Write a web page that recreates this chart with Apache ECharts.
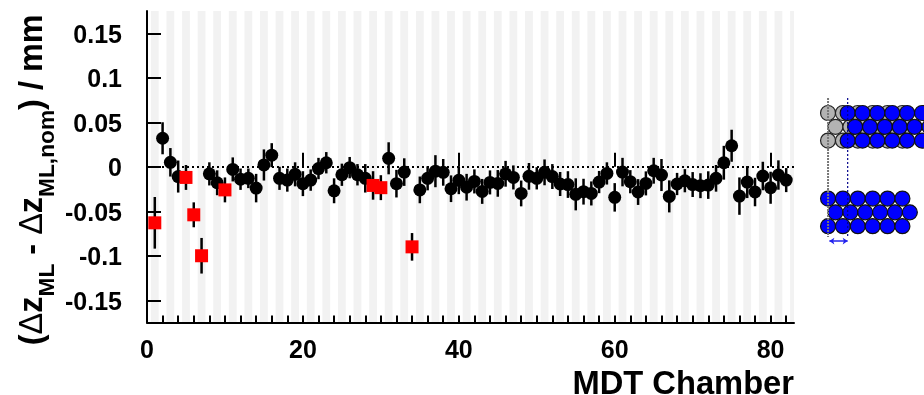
<!DOCTYPE html>
<html>
<head>
<meta charset="utf-8">
<style>html,body{margin:0;background:#fff}#chart{width:924px;height:395px}</style>
<script src="https://cdn.jsdelivr.net/npm/echarts@6/dist/echarts.min.js"></script>
</head>
<body>
<div id="chart"></div>
<script>
  // chambers measured normally
  const blackChambers = [2, 3, 4, 8, 9, 11, 12, 13, 14, 15, 16, 17, 18, 19, 20, 21, 22, 23, 24, 25, 26, 27, 28, 31, 32, 33, 35, 36, 37, 38, 39, 40, 41, 42, 43, 44, 45, 46, 47, 48, 49, 50, 51, 52, 53, 54, 55, 56, 57, 58, 59, 60, 61, 62, 63, 64, 65, 66, 67, 68, 69, 70, 71, 72, 73, 74, 75, 76, 77, 78, 79, 80, 81, 82];
  const blackValues = [0.032, 0.005, -0.011, -0.008, -0.018, -0.003, -0.014, -0.013, -0.024, 0.002, 0.013, -0.013, -0.015, -0.0085, -0.019, -0.015, -0.002, 0.0045, -0.027, -0.009, -0.001, -0.009, -0.013, 0.0095, -0.019, -0.006, -0.026, -0.013, -0.005, -0.0063, -0.0247, -0.0153, -0.023, -0.0165, -0.0277, -0.0176, -0.0187, -0.0079, -0.012, -0.03, -0.0108, -0.013, -0.0063, -0.011, -0.0194, -0.02, -0.031, -0.028, -0.03, -0.0172, -0.0075, -0.0344, -0.006, -0.0168, -0.0284, -0.0187, -0.0045, -0.0093, -0.0333, -0.0194, -0.0157, -0.02, -0.0213, -0.0206, -0.013, 0.0045, 0.0236, -0.033, -0.0172, -0.0284, -0.0104, -0.0236, -0.0093, -0.015];
  const blackErrors = [0.018, 0.016, 0.018, 0.013, 0.014, 0.0135, 0.012, 0.011, 0.016, 0.0175, 0.0135, 0.013, 0.013, 0.0135, 0.014, 0.012, 0.012, 0.012, 0.014, 0.0125, 0.012, 0.012, 0.016, 0.018, 0.0155, 0.0155, 0.015, 0.0135, 0.018, 0.015, 0.015, 0.0155, 0.015, 0.0135, 0.014, 0.0135, 0.015, 0.0145, 0.0135, 0.0145, 0.015, 0.0125, 0.0145, 0.014, 0.0135, 0.015, 0.018, 0.0145, 0.0135, 0.0125, 0.0125, 0.016, 0.016, 0.013, 0.0145, 0.0135, 0.0145, 0.018, 0.018, 0.0125, 0.013, 0.014, 0.014, 0.0155, 0.015, 0.019, 0.018, 0.021, 0.018, 0.016, 0.016, 0.018, 0.0165, 0.0135];

  // chambers drawn in red
  const redChambers = [1, 5, 6, 7, 10, 29, 30, 34];
  const redValues = [-0.063, -0.012, -0.054, -0.1, -0.026, -0.021, -0.0235, -0.09];
  const redErrors = [0.029, 0.014, 0.014, 0.02, 0.014, 0.016, 0.014, 0.0155];

  const xLabelTicks = [0, 20, 40, 60, 80];
  const yLabelTicks = [-0.15, -0.1, -0.05, 0, 0.05, 0.1, 0.15];

  // tube positions in the little sketch, in tube pitches
  const tubeColsEven = [0, 1, 2, 3, 4, 5];
  const tubeColsOdd = [0.5, 1.5, 2.5, 3.5, 4.5, 5.5];
  const topRows = [0, 1, 2];
  const bottomRows = [6.2, 7.2, 8.2];
  const blueShift = 1.32;

  const font = 'Liberation Sans';
  const xMin = 0, xMax = 83, yMin = -0.175, yMax = 0.175;

  let minorTicks = [];
  for (let i = 2; i <= 82; i += 2) minorTicks.push(i);

  // light bands on the odd chambers
  let bands = [];
  for (let c = 1; c <= xMax; c += 2) {
    bands.push([{ coord: [Math.max(c - 0.5, xMin), yMin] }, { coord: [Math.min(c + 0.5, xMax), yMax] }]);
  }

  function makeTubes(rows, shift) {
    let out = [];
    rows.forEach((r, i) => {
      (i % 2 ? tubeColsOdd : tubeColsEven).forEach(c => out.push([c + shift, r]));
    });
    return out;
  }

  function errorBars(xs, ys, es) {
    return {
      type: 'custom',
      z: 3,
      silent: true,
      renderItem(params, api) {
        let a = api.coord([api.value(0), api.value(1)]);
        let b = api.coord([api.value(0), api.value(2)]);
        return { type: 'line', shape: { x1: a[0], y1: a[1], x2: b[0], y2: b[1] }, style: { stroke: '#000', lineWidth: 2.5 } };
      },
      data: xs.map((x, i) => [x, ys[i] - es[i], ys[i] + es[i]])
    };
  }

  let myChart = echarts.init(document.getElementById('chart'), null, { renderer: 'canvas' });
  let option = {
    animation: false,
    backgroundColor: '#fff',
    grid: [
      { left: 147, top: 11, width: 647, height: 311.5, outerBoundsMode: 'none' },
      { left: 810.2, top: 85.4, width: 196.3, height: 165.6, outerBoundsMode: 'none' }
    ],
    xAxis: [
      {
        type: 'value', min: xMin, max: xMax, gridIndex: 0, z: 2,
        splitLine: { show: false },
        axisLine: { show: true, onZero: false, lineStyle: { color: '#000', width: 2 } },
        axisTick: { show: true, inside: true, length: 7, customValues: minorTicks, lineStyle: { color: '#000', width: 2 } },
        axisLabel: { customValues: xLabelTicks, margin: 16, color: '#000', fontFamily: font, fontWeight: 'bold', fontSize: 25 },
        name: 'MDT Chamber', nameLocation: 'end', nameGap: 0,
        nameTextStyle: { color: '#000', fontFamily: font, fontWeight: 'bold', fontSize: 32.7, align: 'right', verticalAlign: 'top', padding: [46, 0, 0, 0] }
      },
      {
        // longer ticks at the labelled values
        type: 'value', min: xMin, max: xMax, gridIndex: 0, position: 'bottom', z: 2,
        splitLine: { show: false },
        axisLine: { show: false },
        axisLabel: { show: false },
        axisTick: { show: true, inside: true, length: 14, customValues: xLabelTicks, lineStyle: { color: '#000', width: 2 } }
      },
      { type: 'value', gridIndex: 1, min: -1.2, max: 12, show: false }
    ],
    yAxis: [
      {
        type: 'value', min: yMin, max: yMax, gridIndex: 0, z: 2,
        splitLine: { show: false },
        axisLine: { show: true, onZero: false, lineStyle: { color: '#000', width: 2 } },
        axisTick: { show: true, inside: true, length: 14, customValues: yLabelTicks, lineStyle: { color: '#000', width: 2 } },
        axisLabel: { customValues: yLabelTicks, margin: 25, verticalAlign: 'top', lineHeight: 5, color: '#000', fontFamily: font, fontWeight: 'bold', fontSize: 25 },
        name: '{b|(}{d|\u0394}{b|z}{s|ML}{b| - }{d|\u0394}{b|z}{s|ML,nom}{b|) / mm}',
        nameLocation: 'middle', nameRotate: 90, nameGap: 88, nameMoveOverlap: false,
        nameTextStyle: {
          padding: [0, 26, 0, 0],
          rich: {
            b: { fontFamily: font, fontWeight: 'bold', fontSize: 32.5, color: '#000', lineHeight: 52, verticalAlign: 'middle' },
            d: { fontFamily: font, fontWeight: 'normal', fontSize: 32.5, color: '#000', lineHeight: 52, verticalAlign: 'middle' },
            s: { fontFamily: font, fontWeight: 'bold', fontSize: 22.7, color: '#000', lineHeight: 24, verticalAlign: 'bottom' }
          }
        }
      },
      { type: 'value', gridIndex: 1, min: -2, max: 10, inverse: true, show: false }
    ],
    series: [
      {
        type: 'scatter', data: [], silent: true, z: 1,
        markArea: { silent: true, z: 1, itemStyle: { color: '#f2f2f2' }, label: { show: false }, data: bands },
        markLine: {
          silent: true, symbol: 'none', label: { show: false }, z: 2,
          lineStyle: { color: '#000', width: 2, type: [2, 3] },
          data: [[{ coord: [xMin, 0] }, { coord: [xMax, 0] }]]
        }
      },
      errorBars(blackChambers, blackValues, blackErrors),
      errorBars(redChambers, redValues, redErrors),
      {
        type: 'scatter', symbol: 'circle', symbolSize: 13, z: 4, silent: true,
        itemStyle: { color: '#000', opacity: 1 },
        data: blackChambers.map((c, i) => [c, blackValues[i]])
      },
      {
        type: 'scatter', symbol: 'rect', symbolSize: 13, z: 5, silent: true,
        itemStyle: { color: '#ff0000', opacity: 1 },
        data: redChambers.map((c, i) => [c, redValues[i]])
      },
      // sketch of the tube layers
      {
        type: 'scatter', xAxisIndex: 2, yAxisIndex: 1, symbolSize: 15, z: 6, silent: true, clip: false,
        itemStyle: { color: '#b3b3b3', borderColor: '#222', borderWidth: 1.2, opacity: 1 },
        data: makeTubes(topRows, 0)
      },
      {
        type: 'scatter', xAxisIndex: 2, yAxisIndex: 1, symbolSize: 15, z: 7, silent: true, clip: false,
        itemStyle: { color: '#0000ff', borderColor: '#111', borderWidth: 1.2, opacity: 1 },
        data: makeTubes(topRows, blueShift).concat(makeTubes(bottomRows, 0))
      },
      {
        type: 'line', xAxisIndex: 2, yAxisIndex: 1, symbol: 'none', z: 8, silent: true,
        lineStyle: { color: '#777', width: 2, type: [2, 1] },
        data: [[0, -1.09], [0, 8.98]]
      },
      {
        type: 'line', xAxisIndex: 2, yAxisIndex: 1, symbol: 'none', z: 8, silent: true,
        lineStyle: { color: '#00008b', width: 1.2, type: [2, 2] },
        data: [[blueShift, -1.09], [blueShift, 8.98]],
        markLine: {
          silent: true, symbol: ['arrow', 'arrow'], symbolSize: 5, label: { show: false },
          lineStyle: { color: '#2222ee', width: 1.5, type: 'solid' },
          data: [[{ coord: [0.09, 9.28] }, { coord: [blueShift, 9.28] }]]
        }
      }
    ]
  };
  myChart.setOption(option);
</script>
</body>
</html>
